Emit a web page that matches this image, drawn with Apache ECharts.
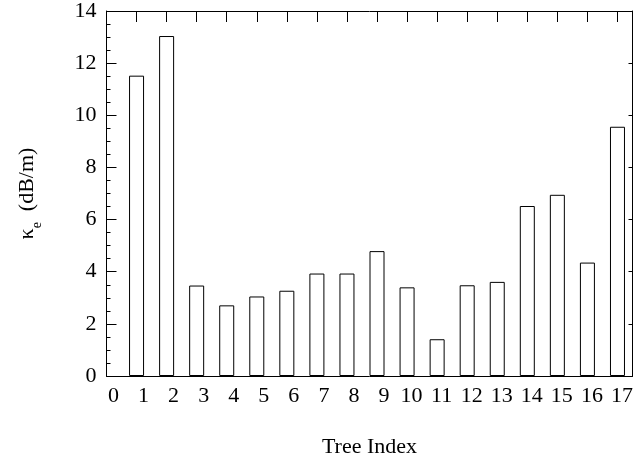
<!DOCTYPE html>
<html>
<head>
<meta charset="utf-8">
<script src="https://cdn.jsdelivr.net/npm/echarts@6/dist/echarts.min.js"></script>
<style>html,body{margin:0;padding:0;background:#fff}#c{width:636px;height:463px}</style>
</head>
<body>
<div id="c"></div>
<script>
var treeIndex = [1, 2, 3, 4, 5, 6, 7, 8, 9, 10, 11, 12, 13, 14, 15, 16, 17];
var kappaE = [11.52, 13.04, 3.47, 2.71, 3.05, 3.27, 3.93, 3.93, 4.79, 3.40, 1.41, 3.48, 3.61, 6.52, 6.95, 4.35, 9.56];
var yTicks = [0, 2, 4, 6, 8, 10, 12, 14];

var font = '"Liberation Serif", "Times New Roman", serif';
var chart = echarts.init(document.getElementById('c'));
var pairs = treeIndex.map(function (t, i) { return [t, kappaE[i]]; });

var baseX = {
  type: 'value', min: 0, max: 17.5, interval: 1,
  axisLine: { show: true, onZero: false, lineStyle: { color: '#000', width: 1 } },
  splitLine: { show: false }
};
var baseY = {
  type: 'value', min: 0, max: 14, interval: 2,
  axisLine: { show: true, onZero: false, lineStyle: { color: '#000', width: 1 } },
  splitLine: { show: false }
};

chart.setOption({
  animation: false,
  backgroundColor: '#fff',
  grid: { left: 106.5, top: 11, right: 3.5, bottom: 87, containLabel: false },
  xAxis: [
    Object.assign({}, baseX, {
      position: 'bottom',
      name: 'Tree Index', nameLocation: 'middle', nameGap: 60,
      nameTextStyle: { fontFamily: font, fontSize: 22, color: '#000' },
      axisTick: { show: true, inside: true, length: 10, lineStyle: { color: '#000' } },
      axisLabel: {
        show: true, margin: 9, showMaxLabel: false,
        fontFamily: font, fontSize: 22, color: '#000',
        formatter: function (v) {
          if (v !== Math.round(v)) return '';
          return v < 10 ? '{s|' + v + '}' : '{d|' + v + '}';
        },
        rich: {
          s: { fontFamily: font, fontSize: 22, color: '#000', padding: [0, 0, 0, 14] },
          d: { fontFamily: font, fontSize: 22, color: '#000', padding: [0, 0, 0, 9] }
        }
      }
    }),
    Object.assign({}, baseX, {
      position: 'top',
      axisTick: { show: true, inside: true, length: 11, lineStyle: { color: '#000' } },
      axisLabel: { show: false }
    })
  ],
  yAxis: [
    Object.assign({}, baseY, {
      position: 'left',
      name: '{k|κ}{e|e}{k|  (dB/m)}', nameLocation: 'middle', nameGap: 68, nameRotate: 90,
      nameTextStyle: {
        fontFamily: font, fontSize: 22, color: '#000',
        rich: {
          k: { fontFamily: font, fontSize: 22, color: '#000', verticalAlign: 'bottom', lineHeight: 26 },
          e: { fontFamily: font, fontSize: 14, color: '#000', verticalAlign: 'bottom', lineHeight: 26, padding: [0, 0, -6, 0] }
        }
      },
      axisTick: { show: true, inside: true, length: 10, lineStyle: { color: '#000' } },
      minorTick: { show: true, splitNumber: 4, length: 4, lineStyle: { color: '#000' } },
      axisLabel: {
        show: true, margin: 10, fontFamily: font, fontSize: 22, color: '#000',
        formatter: function (v) { return yTicks.indexOf(v) >= 0 ? String(v) : ''; }
      }
    }),
    Object.assign({}, baseY, {
      position: 'right',
      axisTick: { show: true, inside: true, length: 4, lineStyle: { color: '#000' } },
      axisLabel: { show: false }
    })
  ],
  series: [{
    type: 'bar',
    xAxisIndex: 0, yAxisIndex: 0,
    data: pairs,
    barWidth: 15,
    itemStyle: { color: '#fff', borderColor: '#000', borderWidth: 1 }
  }]
});
</script>
</body>
</html>
